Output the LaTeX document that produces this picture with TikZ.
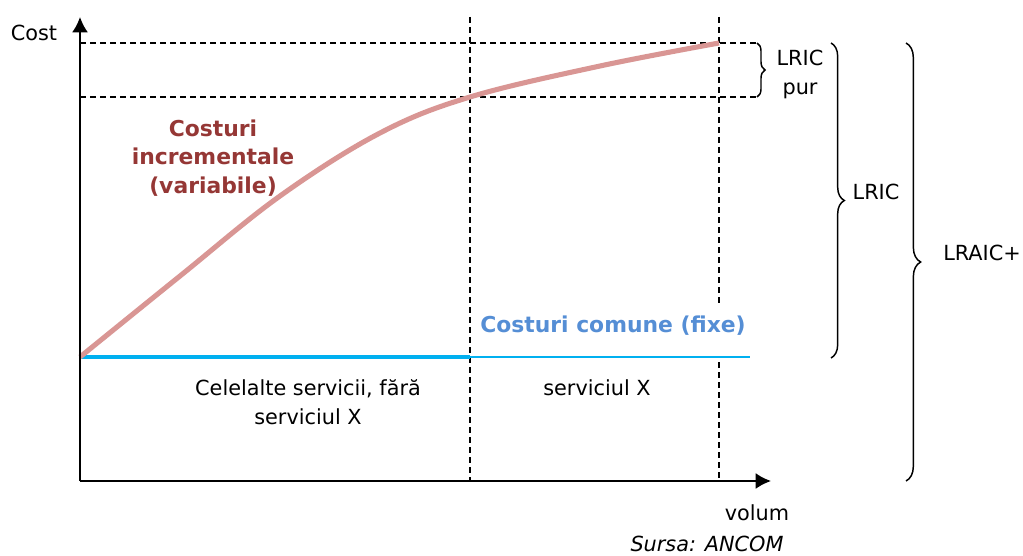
\documentclass[tikz,border=0pt]{standalone}
\usepackage{fontspec}
\setmainfont{DejaVu Sans}
\usetikzlibrary{arrows.meta,decorations.pathreplacing}
\definecolor{curvecol}{HTML}{D99694}
\definecolor{incr}{HTML}{953735}
\definecolor{comun}{HTML}{558ED5}
\definecolor{fixline}{HTML}{00B0F0}
\begin{document}
\begin{tikzpicture}[x=0.75pt,y=-0.75pt,
  txt/.style={font=\fontsize{15.6}{21.7}\selectfont, align=center, inner sep=0pt},
  btxt/.style={font=\fontsize{16.4}{21.4}\selectfont\bfseries, align=center, inner sep=0pt},
  axis/.style={line width=1.5pt, -{Latex[length=11.5pt,width=12pt]}},
  guide/.style={line width=1.1pt, dash pattern=on 4.5pt off 3pt},
  bracebox/.style={line width=1.1pt, decorate, decoration={brace, amplitude=#1}},
  costcurve/.style={line width=3.8pt, curvecol},
]
\useasboundingbox (0,0) rectangle (1023,556);
% coordinates
\coordinate (O) at (80,481);
\coordinate (ytop) at (80,17);
\coordinate (xend) at (771,481);
\coordinate (h1a) at (80,43);  \coordinate (h1b) at (757,43);
\coordinate (h2a) at (80,97);  \coordinate (h2b) at (757,97);
\coordinate (v1a) at (470,17); \coordinate (v1b) at (470,481);
\coordinate (v2a) at (719,17); \coordinate (v2m) at (719,307);
\coordinate (v2n) at (719,362); \coordinate (v2b) at (719,481);
\coordinate (f0) at (80,357); \coordinate (f1) at (470,357); \coordinate (f2) at (750,357);
% guides
\draw[guide] (h1a) -- (h1b);
\draw[guide] (h2a) -- (h2b);
\draw[guide] (v1a) -- (v1b);
\draw[guide] (v2a) -- (v2m);
\draw[guide] (v2n) -- (v2b);
% fixed cost line
\draw[fixline, line width=2.4pt] (f0) -- (f1);
\draw[fixline, line width=1.2pt] (f1) -- (f2);
% incremental cost curve
\draw[costcurve] plot[smooth, tension=0.6] coordinates {(80,357) (180,276) (280,196) (380,133) (470,97) (600,66) (719,43)};
% axes
\draw[axis] (O) -- (ytop);
\draw[axis] (O) -- (xend);
% braces
\draw[bracebox=6pt] (757,43) -- (757,97);
\draw[bracebox=10pt] (831,43) -- (831,358);
\draw[bracebox=11pt] (906,43) -- (906,481);
% labels
\node[txt] (cost) at (34,33) {Cost};
\node[txt] (volum) at (757,513) {volum};
\node[txt, font=\fontsize{15.6}{21.7}\selectfont\itshape, anchor=base] (src) at (707,551) {Sursa: ANCOM};
\node[btxt, text=incr] (inc) at (213,158) {Costuri\\incrementale\\(variabile)};
\node[btxt, text=comun] (com) at (613,326) {Costuri comune (fixe)};
\node[txt] (cel) at (308,402) {Celelalte servicii, fără\\serviciul X};
\node[txt] (sx) at (597,388) {serviciul X};
\node[txt] (lp) at (800,74) {LRIC\\pur};
\node[txt] (lric) at (876,192) {LRIC};
\node[txt] (lraic) at (982,253) {LRAIC+};
\end{tikzpicture}
\end{document}
